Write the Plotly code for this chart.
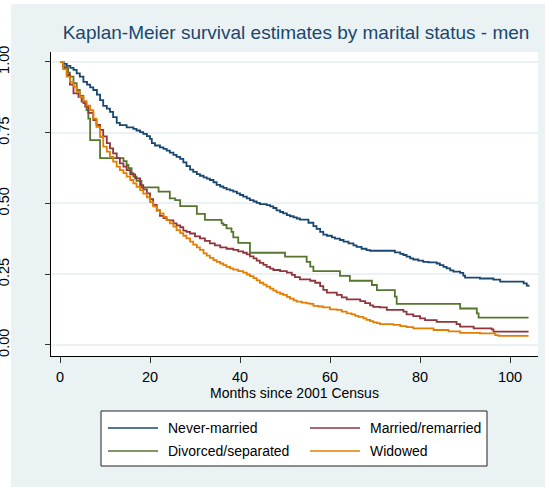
import plotly.graph_objects as go

# Kaplan-Meier step estimates (months since census, surviving proportion)
never_t = [0, 0.8, 1.5, 2.3, 3.0, 3.7, 4.4, 5.2, 6.0, 6.7, 7.4, 8.2, 8.9, 9.6, 10.4, 11.1, 11.8, 12.6, 13.3,
           14.8, 16.3, 17.0, 17.8, 18.5, 19.3, 20.0, 20.4, 21.1, 22.2, 23.0, 23.7, 24.4, 25.2, 25.9, 26.7,
           27.4, 28.1, 28.9, 29.6, 30.4, 31.1, 31.9, 32.6, 33.3, 34.1, 34.8, 35.6, 36.3, 37.0, 37.8, 38.5,
           39.3, 40.0, 40.7, 41.5, 42.2, 43.0, 43.7, 44.4, 45.9, 46.7, 47.4, 48.1, 48.9, 49.6, 50.4, 51.1,
           51.9, 52.6, 53.3, 55.2, 56.3, 57.0, 57.8, 58.5, 59.3, 60.4, 61.1, 62.2, 63.0, 64.1, 65.2, 65.9,
           67.0, 68.1, 68.9, 74.4, 75.6, 76.3, 77.0, 77.8, 78.5, 79.6, 80.7, 81.9, 83.7, 84.4, 85.2, 85.9,
           86.7, 87.4, 88.9, 89.6, 90.0, 93.3, 96.3, 97.8, 103.0, 103.7, 104.1]
never_s = [1.0, 0.993, 0.986, 0.979, 0.972, 0.960, 0.948, 0.930, 0.920, 0.910, 0.901, 0.885, 0.865, 0.845,
           0.835, 0.824, 0.805, 0.785, 0.777, 0.769, 0.764, 0.758, 0.752, 0.746, 0.738, 0.728, 0.713, 0.705,
           0.698, 0.693, 0.687, 0.680, 0.672, 0.665, 0.658, 0.645, 0.632, 0.620, 0.612, 0.604, 0.598, 0.592,
           0.588, 0.583, 0.575, 0.566, 0.560, 0.555, 0.550, 0.546, 0.542, 0.536, 0.530, 0.524, 0.518, 0.512,
           0.507, 0.502, 0.498, 0.494, 0.490, 0.484, 0.476, 0.470, 0.465, 0.459, 0.455, 0.451, 0.447, 0.443,
           0.432, 0.420, 0.410, 0.400, 0.390, 0.386, 0.380, 0.376, 0.371, 0.365, 0.359, 0.352, 0.347, 0.340,
           0.335, 0.333, 0.327, 0.322, 0.318, 0.312, 0.306, 0.302, 0.298, 0.294, 0.292, 0.288, 0.282, 0.276,
           0.271, 0.264, 0.259, 0.255, 0.245, 0.238, 0.235, 0.231, 0.224, 0.218, 0.210, 0.206]

married_t = [0, 0.7, 1.5, 2.2, 3.0, 4.1, 4.8, 5.6, 6.3, 7.4, 8.1, 8.9, 9.6, 10.4, 11.1, 11.8, 12.6, 13.3,
             14.1, 14.8, 15.6, 16.7, 17.8, 18.5, 19.3, 20.0, 20.7, 21.5, 22.2, 23.0, 23.7, 24.4, 25.2, 25.9,
             26.7, 27.4, 28.1, 28.9, 30.0, 31.1, 32.2, 33.3, 34.4, 35.6, 37.0, 38.5, 39.6, 40.7, 41.5, 42.2,
             43.0, 43.7, 44.4, 45.2, 45.9, 46.7, 47.4, 48.9, 50.4, 51.5, 52.2, 53.3, 55.6, 56.7, 57.8, 58.5,
             59.3, 61.5, 62.6, 63.7, 66.7, 67.8, 68.9, 69.6, 71.1, 72.6, 76.3, 77.0, 78.5, 80.0, 81.1, 83.7,
             88.1, 88.9, 91.9, 95.9, 96.3, 104.1]
married_s = [1.0, 0.980, 0.954, 0.920, 0.889, 0.877, 0.860, 0.842, 0.820, 0.795, 0.778, 0.760, 0.737, 0.713,
             0.695, 0.677, 0.660, 0.642, 0.630, 0.618, 0.603, 0.589, 0.565, 0.550, 0.536, 0.515, 0.495, 0.475,
             0.456, 0.448, 0.442, 0.440, 0.430, 0.423, 0.416, 0.404, 0.400, 0.394, 0.384, 0.377, 0.368, 0.359,
             0.352, 0.345, 0.340, 0.336, 0.331, 0.326, 0.320, 0.313, 0.306, 0.298, 0.290, 0.283, 0.276, 0.270,
             0.265, 0.261, 0.256, 0.248, 0.240, 0.232, 0.227, 0.220, 0.208, 0.195, 0.185, 0.177, 0.168, 0.161,
             0.155, 0.148, 0.140, 0.135, 0.133, 0.124, 0.118, 0.108, 0.102, 0.094, 0.088, 0.082, 0.074, 0.065,
             0.059, 0.055, 0.047, 0.047]

divorced_t = [0, 0.7, 1.1, 1.8, 2.2, 3.0, 3.7, 4.4, 5.2, 5.9, 6.3, 6.7, 8.9, 14.1, 14.8, 15.2, 15.9, 16.3,
              17.0, 18.1, 21.9, 24.4, 25.6, 26.7, 30.4, 32.2, 35.9, 36.3, 37.0, 38.1, 38.5, 39.6, 42.2, 50.0,
              54.8, 55.6, 56.3, 62.2, 64.4, 69.3, 70.4, 74.4, 74.8, 88.9, 92.6, 93.0, 104.1]
divorced_s = [1.0, 0.985, 0.978, 0.962, 0.948, 0.925, 0.901, 0.880, 0.855, 0.830, 0.800, 0.724, 0.660, 0.650,
              0.636, 0.625, 0.607, 0.595, 0.580, 0.557, 0.542, 0.518, 0.512, 0.491, 0.463, 0.442, 0.430, 0.424,
              0.412, 0.400, 0.380, 0.361, 0.326, 0.312, 0.294, 0.277, 0.261, 0.244, 0.227, 0.212, 0.194, 0.171,
              0.145, 0.129, 0.112, 0.097, 0.097]

widowed_t = [0, 0.7, 1.5, 2.2, 3.0, 3.7, 4.4, 5.2, 5.9, 6.7, 7.4, 8.1, 8.9, 9.6, 10.4, 11.1, 11.8, 12.6, 13.3,
             14.1, 14.8, 15.6, 16.3, 17.0, 17.8, 18.5, 19.3, 20.0, 20.7, 21.5, 22.2, 23.0, 23.7, 24.4, 25.2,
             25.9, 26.7, 27.4, 28.1, 28.9, 29.6, 30.4, 31.1, 31.9, 32.6, 33.3, 34.1, 34.8, 35.6, 36.3, 37.0,
             37.8, 38.5, 39.6, 40.7, 41.5, 42.2, 43.0, 43.7, 44.4, 45.2, 45.9, 46.7, 47.4, 48.1, 48.9, 49.6,
             50.4, 51.1, 51.9, 52.6, 53.7, 54.8, 55.6, 56.3, 57.4, 58.5, 60.0, 61.5, 62.6, 63.7, 64.8, 65.6,
             66.3, 67.4, 68.1, 68.9, 69.6, 70.4, 71.1, 74.1, 75.6, 77.0, 78.5, 83.0, 86.3, 88.9, 93.3, 96.7,
             97.4, 104.1]
widowed_s = [1.0, 0.975, 0.948, 0.930, 0.913, 0.895, 0.877, 0.862, 0.846, 0.830, 0.800, 0.771, 0.735, 0.701,
             0.683, 0.665, 0.648, 0.630, 0.618, 0.607, 0.595, 0.583, 0.571, 0.559, 0.547, 0.535, 0.522, 0.505,
             0.490, 0.477, 0.465, 0.453, 0.442, 0.430, 0.418, 0.406, 0.395, 0.386, 0.377, 0.365, 0.355, 0.345,
             0.336, 0.324, 0.316, 0.308, 0.300, 0.294, 0.288, 0.282, 0.276, 0.271, 0.266, 0.261, 0.256, 0.249,
             0.243, 0.236, 0.228, 0.220, 0.213, 0.206, 0.199, 0.192, 0.186, 0.181, 0.177, 0.170, 0.164, 0.158,
             0.153, 0.150, 0.147, 0.145, 0.138, 0.136, 0.133, 0.126, 0.124, 0.118, 0.112, 0.108, 0.103, 0.099,
             0.094, 0.089, 0.084, 0.080, 0.077, 0.074, 0.071, 0.067, 0.063, 0.059, 0.053, 0.048, 0.043, 0.041,
             0.035, 0.032, 0.032]

series_names = ["Never-married", "Married/remarried", "Divorced/separated", "Widowed"]
series_colors = ["#1A476F", "#90353B", "#55752F", "#E37E00"]
x_ticks = [0, 20, 40, 60, 80, 100]
y_ticks = [0, 0.25, 0.5, 0.75, 1.0]
y_tick_text = ["0.00", "0.25", "0.50", "0.75", "1.00"]

W, H = 545, 487
L, R, T, B = 51, 7, 52, 131
PW, PH = W - L - R, H - T - B
BG = "#EAF2F3"
FONT = "Liberation Sans, Arial, sans-serif"


def px(x):
    return (x - L) / PW


def py(y):
    return (H - B - y) / PH


fig = go.Figure()
curves = [(never_t, never_s), (married_t, married_s), (divorced_t, divorced_s), (widowed_t, widowed_s)]
# draw order: never, divorced, married, widowed on top
for idx in [0, 2, 1, 3]:
    t, s = curves[idx]
    fig.add_trace(go.Scatter(x=t, y=s, mode="lines", line=dict(shape="hv", color=series_colors[idx], width=1.8),
                             name=series_names[idx], showlegend=False, hoverinfo="skip"))

shapes = [
    dict(type="rect", xref="paper", yref="paper", x0=px(0), x1=px(W), y0=py(0), y1=py(4),
         fillcolor="white", line_width=0, layer="below"),
    dict(type="rect", xref="paper", yref="paper", x0=px(0), x1=px(11), y0=py(H), y1=py(0),
         fillcolor="white", line_width=0, layer="below"),
]
annotations = []

# legend box with two columns of entries
LX0, LX1, LY0, LY1 = 101, 487, 411, 466
shapes.append(dict(type="rect", xref="paper", yref="paper", x0=px(LX0), x1=px(LX1), y0=py(LY1), y1=py(LY0),
                   fillcolor="white", line=dict(color="#222222", width=1)))
entry_pos = [(108, 428), (310, 428), (108, 451), (310, 451)]
for (ex, ey), name, color in zip(entry_pos, series_names, series_colors):
    shapes.append(dict(type="line", xref="paper", yref="paper", x0=px(ex), x1=px(ex + 50), y0=py(ey), y1=py(ey),
                       line=dict(color=color, width=1.6)))
    annotations.append(dict(xref="paper", yref="paper", x=px(ex + 58), y=py(ey), text=name, showarrow=False,
                            xanchor="left", yanchor="middle", font=dict(size=14, color="black", family=FONT)))

annotations.append(dict(xref="paper", yref="paper", x=0.5, y=py(393), text="Months since 2001 Census",
                        showarrow=False, xanchor="center", yanchor="middle",
                        font=dict(size=14, color="black", family=FONT)))

fig.update_layout(
    width=W, height=H,
    margin=dict(l=L, r=R, t=T, b=B, autoexpand=False),
    paper_bgcolor=BG, plot_bgcolor="white",
    title=dict(text="Kaplan-Meier survival estimates by marital status - men", x=px(296), xanchor="center",
               xref="paper", y=1 - 32.5 / H, yref="container", yanchor="middle", automargin=False,
               font=dict(size=19, color="#1A476F", family=FONT)),
    shapes=shapes, annotations=annotations,
    font=dict(family=FONT, color="black"),
)
fig.update_xaxes(range=[-2.0, 106.2], tickvals=x_ticks, ticks="outside", ticklen=6, tickcolor="#333333",
                 showline=True, linecolor="black", linewidth=1, showgrid=False, zeroline=False, automargin=False,
                 tickfont=dict(size=14.5, color="black"), ticklabelstandoff=2)
fig.update_yaxes(range=[-0.0389, 1.0353], tickvals=y_ticks, ticktext=y_tick_text, ticks="outside", ticklen=5,
                 tickcolor="#333333", showline=True, linecolor="black", linewidth=1, showgrid=True,
                 gridcolor=BG, gridwidth=1.5, zeroline=False, tickangle=-90, automargin=False,
                 tickfont=dict(size=14.5, color="black"), ticklabelstandoff=30)

fig.write_html("out.html")
